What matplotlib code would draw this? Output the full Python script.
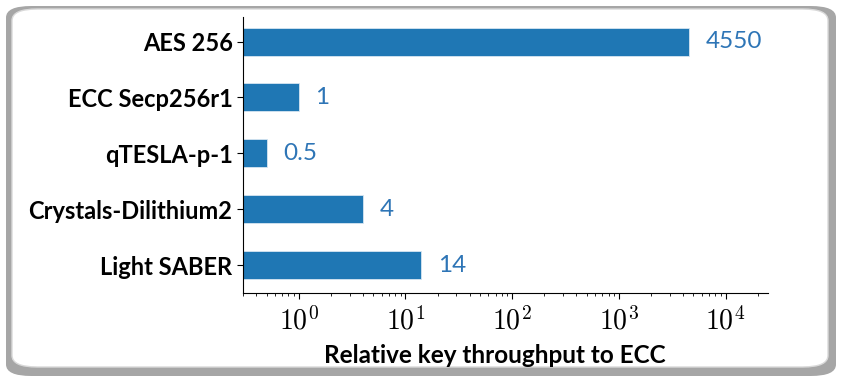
import matplotlib
matplotlib.use('Agg')
import matplotlib.pyplot as plt
from matplotlib.patches import FancyBboxPatch
from matplotlib.ticker import FuncFormatter
import numpy as np

plt.rcParams['font.family'] = ['Lato', 'DejaVu Sans']
plt.rcParams['mathtext.fontset'] = 'cm'

schemes = ['AES 256', 'ECC Secp256r1', 'qTESLA-p-1', 'Crystals-Dilithium2', 'Light SABER']
throughput = [4550, 1, 0.5, 4, 14]
value_labels = ['4550', '1', '0.5', '4', '14']

fig = plt.figure(figsize=(8.44, 3.84), dpi=100)

# rounded card with grey shadow behind the chart
shadow = FancyBboxPatch((6 / 844, 8 / 384), 830 / 844, 370 / 384,
                        boxstyle='round,pad=0,rounding_size=0.03',
                        transform=fig.transFigure, facecolor='#a6a6a6',
                        edgecolor='none', zorder=0)
card = FancyBboxPatch((12 / 844, 17 / 384), 816 / 844, 358 / 384,
                      boxstyle='round,pad=0,rounding_size=0.03',
                      transform=fig.transFigure, facecolor='white',
                      edgecolor='#d9d9d9', linewidth=1, zorder=1)
fig.patches.extend([shadow, card])

ax = fig.add_axes([243 / 844, 91 / 384, 525 / 844, 276 / 384])
ax.set_facecolor('none')
ax.set_zorder(2)

y = list(range(len(schemes)))
ax.barh(y, throughput, height=0.5, color='#1f77b4', edgecolor='#d6e6f2', linewidth=0.6)
ax.set_xscale('log')
ax.set_xlim(0.3, 25000)
ax.set_ylim(4.5, -0.44)
ax.xaxis.set_major_formatter(FuncFormatter(lambda v, pos: r'$10^{%d}$' % round(np.log10(v))))

ax.set_yticks(y)
ax.set_yticklabels(schemes, fontsize=17, fontweight='bold')
for val, lab, yy in zip(throughput, value_labels, y):
    ax.annotate(lab, (val, yy), xytext=(12, 0), textcoords='offset points',
                va='center', ha='left', fontsize=17.5, color='#2e75b6')

ax.tick_params(axis='x', which='major', labelsize=20, length=4, pad=5)
ax.tick_params(axis='x', which='minor', length=2)
ax.tick_params(axis='y', length=4)
ax.set_xlabel('Relative key throughput to ECC', fontsize=17.5, fontweight='bold')
ax.xaxis.set_label_coords(0.48, -0.185)

ax.spines['top'].set_visible(False)
ax.spines['right'].set_visible(False)

fig.savefig('out.png', dpi=100)
